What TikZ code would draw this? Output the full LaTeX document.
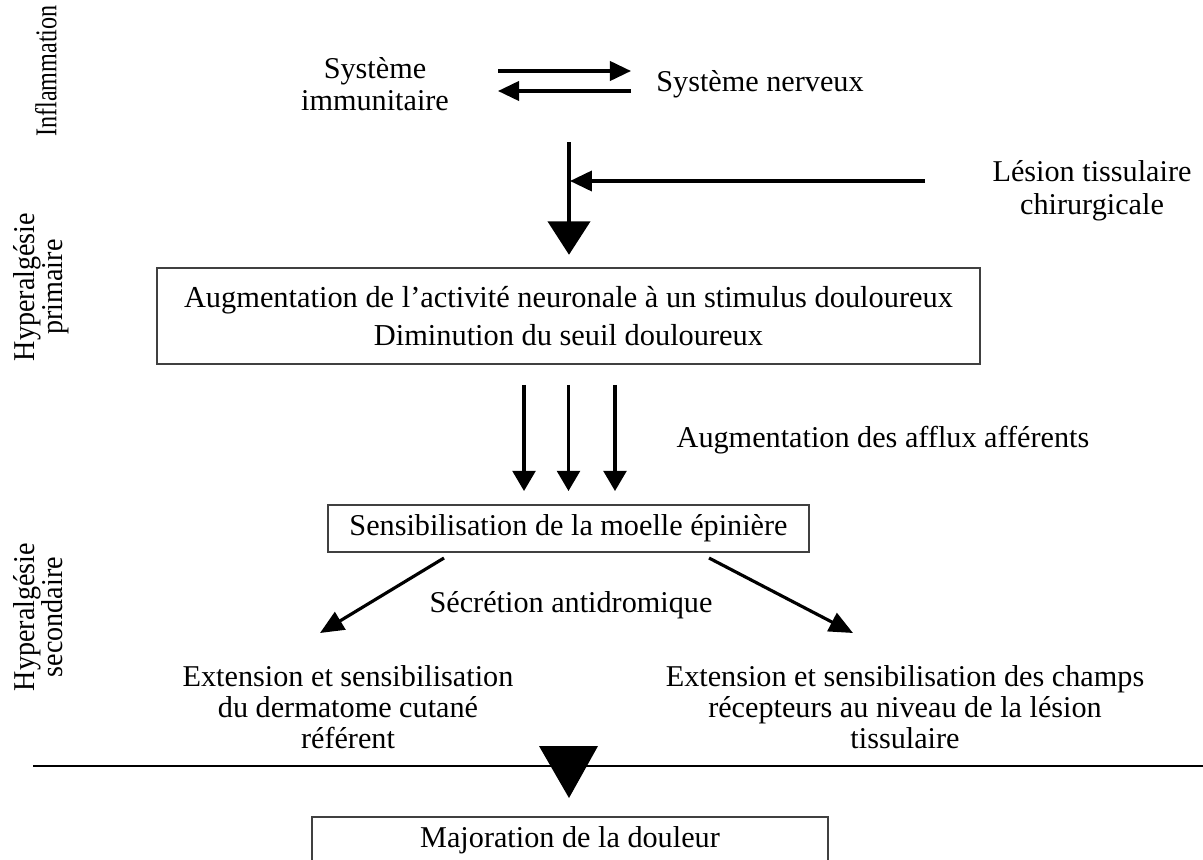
\documentclass[tikz,border=0pt]{standalone}
\usepackage{fontspec}
\setmainfont{Liberation Serif}
\usetikzlibrary{arrows.meta}
\begin{document}
\begin{tikzpicture}[x=0.02cm,y=-0.02cm,
  txt/.style={align=center,font=\fontsize{17.2}{18.5}\selectfont,inner sep=0pt},
  txtb/.style={align=center,font=\fontsize{17.2}{17.6}\selectfont,inner sep=0pt},
  box/.style={draw=black!75,line width=1.1pt,align=center,inner sep=0pt},
  side/.style={align=center,font=\fontsize{17.2}{15.5}\selectfont,inner sep=0pt,rotate=90},
  arr/.style={line width=1.8pt,-{Triangle[length=12pt,width=11pt]}},
  harr/.style={line width=1.8pt,-{Triangle[length=12.5pt,width=11.5pt]}},
  aff/.style={line width=1.8pt,-{Triangle[length=11.5pt,width=13pt]}},
  diag/.style={line width=1.8pt,-{Triangle[length=13.5pt,width=11.5pt]}},
  bigarr/.style={line width=2pt,-{Triangle[length=19pt,width=24pt]}},
]
\clip (0,0) rectangle (1203,859);
\fill[white] (0,0) rectangle (1203,859);

% side labels
\node[side] (infl) at (46,71) {\scalebox{0.8}[1]{Inflammation}};
\node[side] (hp) at (42,287) {\scalebox{0.93}[1]{\begin{tabular}{@{}c@{}}Hyperalgésie\\[-0.5pt]primaire\end{tabular}}};
\node[side] (hs) at (42,617) {\scalebox{0.93}[1]{\begin{tabular}{@{}c@{}}Hyperalgésie\\[-0.5pt]secondaire\end{tabular}}};

% top texts
\node[txt] (imm) at (375,84) {Système\\immunitaire};
\node[txt] (nerv) at (760,84) {Système nerveux};
\node[txt] (les) at (1092,191) {Lésion tissulaire\\chirurgicale};

% boxes
\node[box,minimum width=16.46cm,minimum height=1.92cm,
      font=\fontsize{17.3}{21.6}\selectfont] (box1) at (568.5,316)
  {Augmentation de l’activité neuronale à un stimulus douloureux\\Diminution du seuil douloureux};
\node[box,minimum width=9.62cm,minimum height=0.94cm,
      font=\fontsize{17.2}{18.5}\selectfont] (box2) at (568.5,528.5)
  {Sensibilisation de la moelle épinière};
\node[box,minimum width=10.32cm,minimum height=0.92cm,
      font=\fontsize{17.2}{18.5}\selectfont] (box3) at (570,840)
  {Majoration de la douleur};

% other texts
\node[txt] (aff) at (883,440) {Augmentation des afflux afférents};
\node[txt] (sec) at (571,605) {Sécrétion antidromique};
\node[txtb] (lext) at (348,707) {Extension et sensibilisation\\du dermatome cutané\\référent};
\node[txtb] (rext) at (905,707) {Extension et sensibilisation des champs\\récepteurs au niveau de la lésion\\tissulaire};

% coordinates
\coordinate (a1s) at (498,71);
\coordinate (a1e) at (631,71);
\coordinate (a2s) at (631,91);
\coordinate (a2e) at (498,91);
\coordinate (vtop) at (569,142);
\coordinate (hstart) at (925,181);
\coordinate (hjoin) at (570,181);
\coordinate (d1s) at (444,558);
\coordinate (d1e) at (320,633);
\coordinate (d2s) at (709,558);
\coordinate (d2e) at (853,633);

% connectors
\draw[arr] (a1s) -- (a1e);
\draw[arr] (a2s) -- (a2e);
\draw[bigarr] (vtop) -- ([yshift=7pt]box1.north -| vtop);
\draw[harr] (hstart) -- (hjoin);
\draw[aff,shorten <=11.4pt,shorten >=7.4pt] ([xshift=-0.89cm]box1.south) -- ([xshift=-0.89cm]box2.north);
\draw[aff,shorten <=11.4pt,shorten >=7.4pt] (box1.south) -- (box2.north);
\draw[aff,shorten <=11.4pt,shorten >=7.4pt] ([xshift=0.93cm]box1.south) -- ([xshift=0.93cm]box2.north);
\draw[diag] (d1s) -- (d1e);
\draw[diag] (d2s) -- (d2e);

% separator and big triangle
\coordinate (sepl) at (33,766);
\coordinate (sepr) at (1203,766);
\draw[line width=1.6pt] (sepl) -- (sepr);
\fill (539,746) -- (598,746) -- (569,798) -- cycle;
\end{tikzpicture}
\end{document}
